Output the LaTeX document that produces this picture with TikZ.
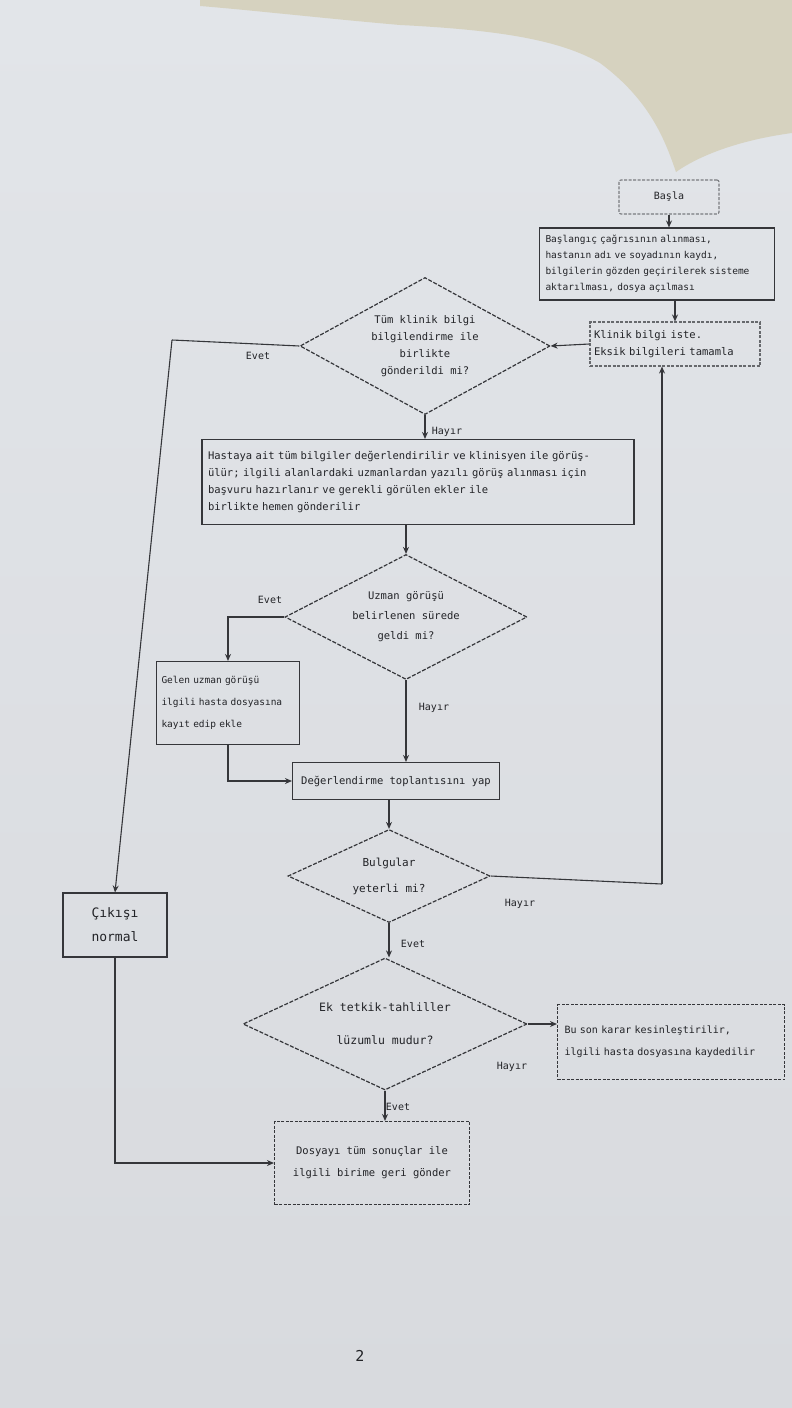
\documentclass[tikz,border=0pt]{standalone}
\usepackage{fontspec}
\setmainfont{DejaVu Sans Mono}
\usetikzlibrary{shapes.geometric,arrows.meta}
\definecolor{linec}{HTML}{35363A}
\definecolor{txtc}{HTML}{222327}
\definecolor{pagetop}{HTML}{E2E5E9}
\definecolor{pagebot}{HTML}{D8DADE}
\definecolor{tablec}{HTML}{D6D2BF}
\begin{document}
\begin{tikzpicture}[x=1pt,y=-1pt,
  ln/.style={draw=linec, line width=1.1pt},
  dia/.style={shape=diamond, draw=linec, line width=1.2pt, dash pattern=on 4pt off 1.6pt,
    inner sep=0pt, text width=0pt},
  dtext/.style={inner sep=0pt, align=center, text=txtc, font=\fontsize{10.5}{17}\selectfont},
  box/.style={rectangle, draw=linec, line width=1.1pt, inner sep=0pt, align=left,
    text=txtc, font=\fontsize{10}{16}\selectfont},
  dbox/.style={box, dash pattern=on 3pt off 1.5pt},
  arr/.style={draw=linec, line width=1.1pt, -{Stealth[length=7pt,width=6pt]}},
  lab/.style={text=txtc, font=\fontsize{10}{12}\selectfont},
]
% background (photographed page)
\shade[top color=pagetop, bottom color=pagebot] (0,0) rectangle (792,1408);
\fill[tablec] (200,0) -- (792,0) -- (792,133) .. controls (740,140) and (700,155) .. (676,172)
  .. controls (665,140) and (650,100) .. (600,63) .. controls (560,40) and (500,30) .. (400,25)
  .. controls (320,18) and (250,10) .. (200,6) -- cycle;
\useasboundingbox (0,0) rectangle (792,1408);

% nodes
\node[dbox, rounded corners=2pt, minimum width=100pt, minimum height=34pt, align=center, draw opacity=0.6] (start) at (669,197) {Başla};
\node[box, text width=223pt, inner xsep=6pt, minimum height=72pt, font=\fontsize{9.5}{16}\selectfont] (top) at (657,264)
  {Başlangıç çağrısının alınması,\\hastanın adı ve soyadının kaydı,\\bilgilerin gözden geçirilerek sisteme\\aktarılması, dosya açılması};
\node[dbox, text width=162pt, inner xsep=4pt, minimum height=44pt, draw opacity=0.7, font=\fontsize{10.5}{17}\selectfont] (kontrol) at (675,344)
  {Klinik bilgi iste.\\Eksik bilgileri tamamla};

\node[dia, minimum width=250pt, minimum height=137pt] (d1) at (425,346) {};
\node[dtext] (d1t) at (d1.center) {Tüm klinik bilgi\\bilgilendirme ile\\birlikte\\gönderildi mi?};

\node[box, text width=420pt, inner xsep=6pt, minimum height=85pt, font=\fontsize{10.5}{17}\selectfont] (big) at (418,482)
  {Hastaya ait tüm bilgiler değerlendirilir ve klinisyen ile görüş-\\ülür; ilgili alanlardaki uzmanlardan yazılı görüş alınması için\\başvuru hazırlanır ve gerekli görülen ekler ile\\birlikte hemen gönderilir};

\node[dia, minimum width=242pt, minimum height=125pt] (d2) at (406,617) {};
\node[dtext, font=\fontsize{10.5}{20}\selectfont] (d2t) at (d2.center) {Uzman görüşü\\belirlenen sürede\\geldi mi?};

\node[box, text width=133pt, inner xsep=5pt, minimum height=83pt, font=\fontsize{9.5}{22}\selectfont] (left) at (228,703)
  {Gelen uzman görüşü\\ilgili hasta dosyasına\\kayıt edip ekle};
\node[box, minimum width=207pt, minimum height=37pt, align=center, font=\fontsize{10.5}{16}\selectfont] (b3) at (396,781)
  {Değerlendirme toplantısını yap};

\node[dia, minimum width=202pt, minimum height=93pt] (d3) at (389,876) {};
\node[dtext, font=\fontsize{11}{26}\selectfont] (d3t) at (d3.center) {Bulgular\\yeterli mi?};

\node[box, minimum width=104pt, minimum height=64pt, align=center, font=\fontsize{13}{24}\selectfont] (normal) at (115,925)
  {Çıkışı\\normal};

\node[dia, minimum width=284pt, minimum height=132pt] (d4) at (385,1024) {};
\node[dtext, font=\fontsize{11.5}{33}\selectfont] (d4t) at (d4.center) {Ek tetkik-tahliller\\lüzumlu mudur?};

\node[dbox, text width=213pt, inner xsep=7pt, minimum height=75pt, font=\fontsize{10}{22}\selectfont] (right) at (671,1042)
  {Bu son karar kesinleştirilir,\\ilgili hasta dosyasına kaydedilir};
\node[dbox, minimum width=195pt, minimum height=83pt, align=center, font=\fontsize{10.5}{22}\selectfont] (bottom) at (372,1163)
  {Dosyayı tüm sonuçlar ile\\ilgili birime geri gönder};
\node[text=txtc, font=\fontsize{15}{15}\selectfont] (pnum) at (360,1356) {2};

% helper coordinates
\coordinate (c1) at (172,340);
\coordinate (c3) at (662,884);

% connectors
\draw[arr] (start) -- (start |- top.north);
\draw[arr] (top.south -| kontrol.north) -- (kontrol.north);
\draw[arr] (kontrol.west) -- (d1.east);
\draw[ln] (d1.west) -- (c1);
\draw[arr] (c1) -- (normal.north);
\draw[arr] (d1.south) -- (d1.south |- big.north);
\draw[arr] (big.south -| d2.north) -- (d2.north);
\draw[arr] (d2.west) -| (left.north);
\draw[arr] (d2.south) -- (d2.south |- b3.north);
\draw[arr] (left.south) |- (b3.west);
\draw[arr] (b3.south -| d3.north) -- (d3.north);
\draw[ln] (d3.east) -- (c3);
\draw[arr] (c3) -- (c3 |- kontrol.south);
\draw[arr] (d3.south) -- (d3.south |- d4.north);
\draw[arr] (d4.east) -- (d4.east -| right.west);
\draw[arr] (d4.south) -- (d4.south |- bottom.north);
\draw[arr] (normal.south) |- (bottom.west);

% branch labels
\node[lab] (l1) at (258,356) {Evet};
\node[lab] (l2) at (447,432) {Hayır};
\node[lab] (l3) at (270,600) {Evet};
\node[lab] (l4) at (434,708) {Hayır};
\node[lab] (l5) at (520,904) {Hayır};
\node[lab] (l6) at (413,944) {Evet};
\node[lab] (l7) at (512,1067) {Hayır};
\node[lab] (l8) at (398,1107) {Evet};
\end{tikzpicture}
\end{document}
